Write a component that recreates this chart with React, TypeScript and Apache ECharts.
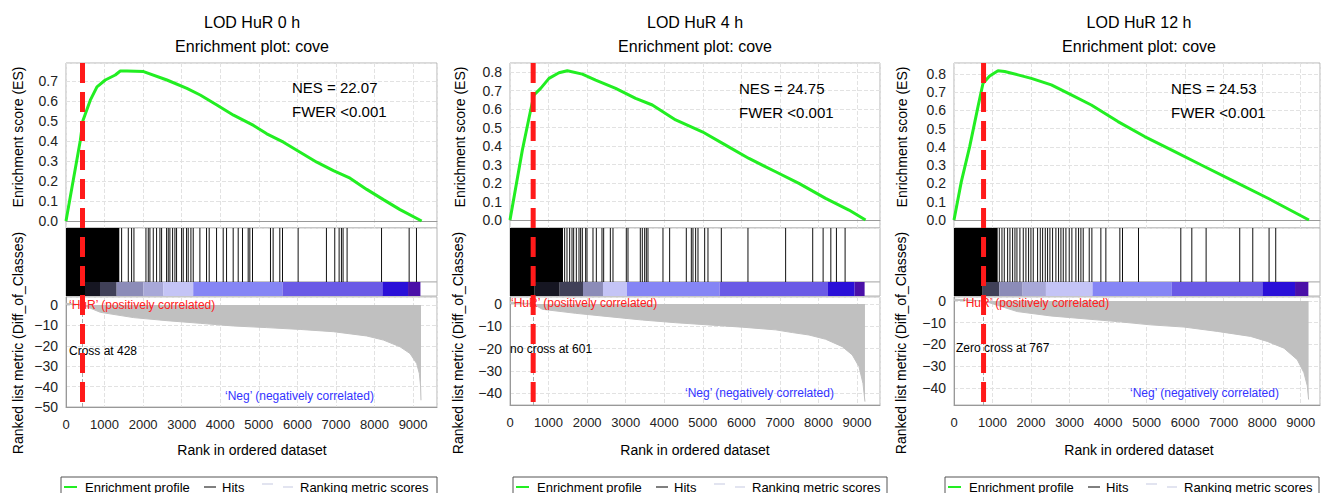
import React, { useEffect, useRef } from 'react';
import * as echarts from 'echarts';

// ---------------- data ----------------
const titles = ['LOD HuR 0 h', 'LOD HuR 4 h', 'LOD HuR 12 h'];
const subtitle = 'Enrichment plot: cove';
const nesTexts = ['NES = 22.07', 'NES = 24.75', 'NES = 24.53'];
const fwerText = 'FWER <0.001';
const crossRanks = [428, 601, 767];
const crossTexts = ['Cross at 428', 'no cross at 601', 'Zero cross at 767'];
const posText = '‘HuR’ (positively correlated)';
const negText = '‘Neg’ (negatively correlated)';
const esAxisName = 'Enrichment score (ES)';
const metricAxisName = 'Ranked list metric (Diff_of_Classes)';
const xAxisName = 'Rank in ordered dataset';
const legendNames = ['Enrichment profile', 'Hits', 'Ranking metric scores'];

// enrichment score curves [rank, ES]
const es0 = [[0, 0], [371, 0.403], [440, 0.503], [630, 0.604], [803, 0.671], [1019, 0.705], [1278, 0.73], [1408, 0.75], [1580, 0.75], [2012, 0.747], [2617, 0.705], [3135, 0.663], [3480, 0.63], [3912, 0.58], [4344, 0.529], [4862, 0.478], [5207, 0.436], [5639, 0.394], [6071, 0.344], [6503, 0.294], [6934, 0.252], [7366, 0.214], [7798, 0.158], [8230, 0.107], [8661, 0.057], [9222, 0]];
const es4 = [[0, 0], [320, 0.378], [536, 0.595], [622, 0.676], [795, 0.712], [1011, 0.766], [1271, 0.796], [1487, 0.807], [1876, 0.789], [2221, 0.757], [2740, 0.712], [3258, 0.658], [3691, 0.622], [4296, 0.541], [4987, 0.477], [5592, 0.405], [6197, 0.333], [6889, 0.261], [7493, 0.198], [8185, 0.117], [8790, 0.054], [9220, 0]];
const es12 = [[0, 0], [190, 0.21], [407, 0.402], [623, 0.621], [753, 0.749], [926, 0.789], [1142, 0.818], [1315, 0.813], [1661, 0.795], [2007, 0.776], [2526, 0.74], [3045, 0.685], [3564, 0.63], [4256, 0.539], [4948, 0.457], [5640, 0.384], [6419, 0.301], [7284, 0.21], [8149, 0.119], [9213, 0]];

// hits: dense block [start, end] and single hit ranks
const hitBlock0 = [0, 1382];
const hits0 = [1442, 1615, 1701, 1762, 2073, 2133, 2176, 2263, 2349, 2435, 2479, 2608, 2651, 2694, 2764, 2824, 2867, 2997, 3040, 3126, 3169, 3239, 3299, 3472, 3644, 3713, 3904, 4076, 4163, 4335, 4465, 4577, 4724, 4767, 4836, 5302, 5371, 5544, 5614, 6019, 6753, 6969, 7082, 7142, 7185, 7289, 8182, 8898, 9088];
const hitBlock4 = [0, 1374];
const hits4 = [1417, 1478, 1547, 1608, 1651, 1720, 1789, 1832, 1876, 1962, 1997, 2152, 2239, 2385, 2429, 2602, 2671, 3016, 3060, 3379, 3431, 3492, 3535, 3578, 3967, 4140, 4572, 4702, 4745, 4814, 4875, 5048, 5134, 5480, 6171, 7148, 7850, 8120, 8320, 8465, 8690];
const hitBlock12 = [0, 1133];
const hits12 = [1176, 1245, 1305, 1392, 1452, 1521, 1582, 1634, 1711, 1798, 1867, 1936, 1997, 2057, 2170, 2239, 2300, 2369, 2429, 2490, 2559, 2645, 2714, 2775, 2836, 2905, 2991, 3060, 3164, 3233, 3294, 3354, 3510, 3579, 3812, 3942, 4305, 4374, 4789, 5887, 6173, 6544, 7417, 7755, 8178, 8351];

// colour bar segments [start, end, level]
const colorbar0 = [[0, 492, 0], [492, 881, 1], [881, 1313, 2], [1313, 2004, 3], [2004, 2522, 4], [2522, 3299, 5], [3299, 5614, 6], [5614, 8204, 7], [8204, 8869, 8], [8869, 9190, 9]];
const colorbar4 = [[0, 640, 0], [640, 1288, 1], [1288, 1893, 2], [1893, 2411, 3], [2411, 3034, 5], [3034, 5436, 6], [5436, 8245, 7], [8245, 8937, 8], [8937, 9196, 9]];
const colorbar12 = [[0, 744, 0], [744, 1176, 2], [1176, 1781, 3], [1781, 2386, 4], [2386, 3596, 5], [3596, 5654, 6], [5654, 8005, 7], [8005, 8852, 8], [8852, 9198, 9]];

// ranked list metric [rank, value]
const metric0 = [[0, 0.8], [428, 0], [890, -3.6], [1753, -6.2], [2617, -7.7], [3480, -9], [4344, -10.3], [5207, -11.1], [6071, -12], [6934, -13.1], [7798, -15.2], [8230, -17.2], [8661, -20.5], [8920, -23.8], [9093, -28.7], [9162, -33.6], [9195, -40], [9205, -46.7]];
const metric4 = [[0, 0.8], [601, 0], [838, -2.4], [1703, -4.2], [2567, -5.7], [3431, -7.2], [4296, -8.4], [5160, -9.4], [6024, -10.4], [6889, -11.6], [7321, -12.8], [7753, -13.9], [8185, -15.8], [8617, -19.1], [8876, -22.8], [9049, -28], [9153, -35.5], [9205, -43.7]];
const metric12 = [[0, 0.8], [767, 0], [1644, -4.9], [2509, -6.9], [3374, -8.2], [4239, -9.5], [5104, -11], [5969, -12], [6834, -14], [7699, -16.3], [8131, -18.6], [8564, -21.7], [8910, -27], [9083, -33], [9170, -39], [9204, -45.3]];

const esData = [es0, es4, es12];
const hitBlocks = [hitBlock0, hitBlock4, hitBlock12];
const hitRanks = [hits0, hits4, hits12];
const colorbars = [colorbar0, colorbar4, colorbar12];
const metrics = [metric0, metric4, metric12];

// ---------------- styles / layout ----------------
const FONT = 'Liberation Sans';
const PALETTE = ['#000000', '#161622', '#404058', '#8c8cb8', '#a8a8d8', '#c4c4f6', '#8585f5', '#6a5ae6', '#2a10d8', '#4a10a8'];
const ES_TOP = 63, ES_BOTTOM = 228, HIT_BOTTOM = 282, BAR_BOTTOM = 296;
const PANELS = [
  { left: 66, width: 371, xMax: 9620, es: [-0.035, 0.79], rk: [-50, 3.9], rkTop: 297, rkBottom: 407, center: 252, esNameX: 18, rkNameX: 18, nes: [292, 87], hur: [69, 305], cross: [69, 351], neg: [225, 396], legendLeft: 61, legendW: 376 },
  { left: 510, width: 370, xMax: 9595, es: [-0.043, 0.849], rk: [-45.2, 3.1], rkTop: 297, rkBottom: 405, center: 695, esNameX: 460, rkNameX: 458, nes: [739, 88], hur: [511, 303], cross: [510, 349], neg: [685, 393], legendLeft: 513, legendW: 374 },
  { left: 954, width: 366, xMax: 9500, es: [-0.044, 0.86], rk: [-47.8, 1.8], rkTop: 297, rkBottom: 405, center: 1139, esNameX: 902, rkNameX: 901, nes: [1171, 88], hur: [963, 303], cross: [956, 348], neg: [1130, 393], legendLeft: 945, legendW: 374 },
];

const gridLine = { show: true, lineStyle: { color: '#e2e2e2', type: 'dashed' as const, width: 1 } };

function esFmt(v: number) {
  const k = Math.round(v * 10);
  if (Math.abs(v * 10 - k) > 1e-6) return '';
  return (k / 10).toFixed(1);
}
function rkFmt(v: number) {
  const k = Math.round(v / 10) * 10;
  if (Math.abs(v - k) > 1e-6) return '';
  return k < 0 ? '\u2212' + Math.abs(k) : String(k);
}
function xFmt(v: number) {
  return String(Math.round(v));
}

function buildOption() {
  const grid: any[] = [], xAxis: any[] = [], yAxis: any[] = [], series: any[] = [];
  PANELS.forEach((p, i) => {
    const g = (top: number, bottom: number) => ({ left: p.left, width: p.width, top, height: bottom - top, show: true, borderColor: '#b4b4b4', borderWidth: 1, backgroundColor: '#fff', containLabel: false });
    grid.push(g(ES_TOP, ES_BOTTOM), g(ES_BOTTOM, HIT_BOTTOM), g(HIT_BOTTOM, BAR_BOTTOM), g(p.rkTop, p.rkBottom));
    const base = i * 4;
    // ES
    xAxis.push({ type: 'value', gridIndex: base, min: 0, max: p.xMax, interval: 1000, axisLine: { show: true, onZero: true, lineStyle: { color: '#999', width: 1 } }, axisTick: { show: false }, axisLabel: { show: false }, splitLine: gridLine });
    yAxis.push({ type: 'value', gridIndex: base, min: p.es[0], max: p.es[1], splitNumber: 8, axisLine: { show: false }, axisTick: { show: false }, axisLabel: { fontSize: 14, color: '#222', margin: 8, formatter: esFmt, fontFamily: FONT }, splitLine: gridLine });
    // hits
    xAxis.push({ type: 'value', gridIndex: base + 1, min: 0, max: p.xMax, show: false, splitLine: { show: false } });
    yAxis.push({ type: 'value', gridIndex: base + 1, min: 0, max: 1, show: false, splitLine: { show: false } });
    // colour bar
    xAxis.push({ type: 'value', gridIndex: base + 2, min: 0, max: p.xMax, show: false, splitLine: { show: false } });
    yAxis.push({ type: 'value', gridIndex: base + 2, min: 0, max: 1, show: false, splitLine: { show: false } });
    // ranked metric
    xAxis.push({ type: 'value', gridIndex: base + 3, min: 0, max: p.xMax, interval: 1000, axisLine: { show: true, onZero: false, lineStyle: { color: '#999' } }, axisTick: { show: false }, axisLabel: { fontSize: 13, color: '#222', margin: 11, showMaxLabel: false, fontFamily: FONT, formatter: xFmt }, splitLine: gridLine });
    yAxis.push({ type: 'value', gridIndex: base + 3, min: p.rk[0], max: p.rk[1], splitNumber: 5, axisLine: { show: true, lineStyle: { color: '#999' } }, axisTick: { show: false }, axisLabel: { fontSize: 14, color: '#222', margin: 8, formatter: rkFmt, fontFamily: FONT }, splitLine: gridLine });

    series.push({
      name: legendNames[0], type: 'line', xAxisIndex: base, yAxisIndex: base, data: esData[i],
      showSymbol: false, symbol: 'none', lineStyle: { color: '#22ee22', width: 3 }, z: 5,
    });
    const hd = [hitBlocks[i], ...hitRanks[i].map((r) => [r, r])];
    series.push({
      name: legendNames[1], type: 'custom', xAxisIndex: base + 1, yAxisIndex: base + 1, data: hd,
      encode: { x: [0, 1] },
      renderItem: (_params: any, api: any) => {
        const s = api.value(0), e = api.value(1);
        const p0 = api.coord([s, 1]);
        const p1 = api.coord([e, 0]);
        if (e > s) {
          return { type: 'rect', shape: { x: p0[0], y: p0[1], width: p1[0] - p0[0], height: p1[1] - p0[1] }, style: { fill: '#000' } };
        }
        return { type: 'line', shape: { x1: p0[0], y1: p0[1], x2: p0[0], y2: p1[1] }, style: { stroke: '#111', lineWidth: 1 } };
      },
    });
    series.push({
      name: 'colorbar', type: 'custom', xAxisIndex: base + 2, yAxisIndex: base + 2, data: colorbars[i],
      encode: { x: [0, 1] },
      renderItem: (_params: any, api: any) => {
        const s = api.value(0), e = api.value(1), lv = api.value(2);
        const p0 = api.coord([s, 1]);
        const p1 = api.coord([e, 0]);
        return { type: 'rect', shape: { x: p0[0], y: p0[1], width: p1[0] - p0[0], height: p1[1] - p0[1] }, style: { fill: PALETTE[lv] } };
      },
    });
    series.push({
      name: legendNames[2], type: 'line', xAxisIndex: base + 3, yAxisIndex: base + 3, data: metrics[i],
      showSymbol: false, symbol: 'none', lineStyle: { color: '#c0c0c0', width: 1 },
      areaStyle: { color: '#c0c0c0', opacity: 1 },
      markLine: { silent: true, symbol: 'none', label: { show: false }, lineStyle: { color: '#aaa', type: 'dashed', width: 1 }, data: [{ xAxis: crossRanks[i] }] },
    });
  });
  return { animation: false, backgroundColor: '#fff', textStyle: { fontFamily: FONT }, grid, xAxis, yAxis, series };
}

function txt(id: string, text: string, x: number, y: number, size: number, color: string, align = 'left', extra: any = {}) {
  return { type: 'text', id, x, y, z: 50, ...extra, style: { text, fontSize: size, fontFamily: FONT, fill: color, align, verticalAlign: 'middle' } };
}

function buildGraphics(crossX: number[]) {
  const els: any[] = [];
  PANELS.forEach((p, i) => {
    els.push(txt('t' + i, titles[i], p.center, 22, 16, '#000', 'center'));
    els.push(txt('s' + i, subtitle, p.center, 46, 16, '#000', 'center'));
    els.push(txt('nes' + i, nesTexts[i], p.nes[0], p.nes[1], 15, '#000'));
    els.push(txt('fw' + i, fwerText, p.nes[0], p.nes[1] + 24, 15, '#000'));
    els.push(txt('hur' + i, posText, p.hur[0], p.hur[1], 12, '#ff2020'));
    els.push(txt('cr' + i, crossTexts[i], p.cross[0], p.cross[1], 12, '#000'));
    els.push(txt('neg' + i, negText, p.neg[0], p.neg[1], 12, '#3333ff'));
    els.push(txt('xn' + i, xAxisName, p.center, 450, 14, '#000', 'center'));
    els.push(txt('yn' + i, esAxisName, p.esNameX, 137, 14, '#000', 'center', { rotation: Math.PI / 2 }));
    els.push(txt('rn' + i, metricAxisName, p.rkNameX, 343, 14, '#000', 'center', { rotation: Math.PI / 2 }));
    const L = p.legendLeft;
    els.push({ type: 'rect', id: 'lb' + i, z: 40, shape: { x: L, y: 477, width: p.legendW, height: 22 }, style: { fill: '#fff', stroke: '#555', lineWidth: 1 } });
    els.push({ type: 'line', id: 'lg' + i, z: 45, shape: { x1: L + 3, y1: 487, x2: L + 16, y2: 487 }, style: { stroke: '#22ee22', lineWidth: 2 } });
    els.push(txt('lt0' + i, legendNames[0], L + 24, 487, 13, '#000'));
    els.push({ type: 'line', id: 'lh' + i, z: 45, shape: { x1: L + 143, y1: 487, x2: L + 155, y2: 487 }, style: { stroke: '#000', lineWidth: 1 } });
    els.push(txt('lt1' + i, legendNames[1], L + 161, 487, 13, '#000'));
    els.push({ type: 'line', id: 'lr1' + i, z: 45, shape: { x1: L + 201, y1: 484, x2: L + 212, y2: 484 }, style: { stroke: '#e2e4f0', lineWidth: 2 } });
    els.push({ type: 'line', id: 'lr2' + i, z: 45, shape: { x1: L + 222, y1: 487, x2: L + 232, y2: 487 }, style: { stroke: '#e2e4f0', lineWidth: 2 } });
    els.push(txt('lt2' + i, legendNames[2], L + 239, 487, 13, '#000'));
    els.push({ type: 'line', id: 'cross' + i, z: 100, shape: { x1: crossX[i], y1: ES_TOP, x2: crossX[i], y2: p.rkBottom }, style: { stroke: '#ff1a1a', lineWidth: 5, lineDash: [20, 9] } });
  });
  return els;
}

export default function App() {
  const ref = useRef<HTMLDivElement>(null);
  useEffect(() => {
    const chart = echarts.init(ref.current!, null, { renderer: 'svg' });
    chart.setOption(buildOption() as any);
    const crossX = crossRanks.map((r, i) => chart.convertToPixel({ xAxisIndex: i * 4 } as any, r) as unknown as number);
    chart.setOption({ graphic: buildGraphics(crossX) } as any);
    return () => chart.dispose();
  }, []);
  return <div ref={ref} style={{ position: 'fixed', left: 0, top: 0, width: 1326, height: 493, background: '#fff' }} />;
}
